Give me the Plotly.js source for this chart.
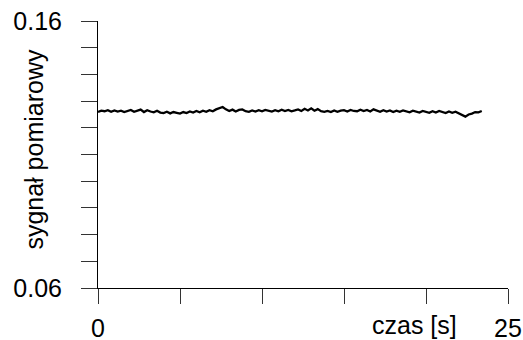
<!DOCTYPE html>
<html>
<head>
<meta charset="utf-8">
<script src="https://cdn.plot.ly/plotly-3.0.1.min.js"></script>
<style>html,body{margin:0;padding:0;background:#fff;}#chart{width:523px;height:340px;}</style>
</head>
<body>
<div id="chart"></div>
<script>
// time [s], step 0.2 s
const timeStart = 0;
const timeStep = 0.2;
const signal = [
0.1259,0.1264,0.1262,0.1266,0.1260,0.1265,0.1261,0.1264,0.1259,0.1263,
0.1267,0.1260,0.1265,0.1268,0.1259,0.1266,0.1261,0.1258,0.1264,0.1257,
0.1255,0.1260,0.1254,0.1259,0.1256,0.1253,0.1259,0.1255,0.1261,0.1257,
0.1263,0.1258,0.1264,0.1260,0.1266,0.1262,0.1269,0.1273,0.1278,0.1269,
0.1263,0.1268,0.1261,0.1267,0.1269,0.1262,0.1260,0.1265,0.1261,0.1266,
0.1262,0.1267,0.1263,0.1261,0.1266,0.1262,0.1268,0.1263,0.1267,0.1262,
0.1265,0.1269,0.1263,0.1271,0.1265,0.1273,0.1264,0.1270,0.1262,0.1260,
0.1263,0.1259,0.1265,0.1260,0.1264,0.1266,0.1261,0.1267,0.1263,0.1262,
0.1268,0.1263,0.1267,0.1261,0.1269,0.1263,0.1260,0.1266,0.1261,0.1265,
0.1259,0.1264,0.1260,0.1265,0.1261,0.1258,0.1264,0.1260,0.1257,0.1263,
0.1259,0.1256,0.1262,0.1257,0.1263,0.1258,0.1255,0.1261,0.1256,0.1260,
0.1254,0.1249,0.1242,0.1250,0.1253,0.1259,0.1258,0.1263
];
const time = signal.map((_, i) => +(timeStart + i * timeStep).toFixed(2));

const xTickVals = [0, 5, 10, 15, 20, 25];
const xTickText = ['0', '', '', '', '', '25'];
const yTickVals = [0.06,0.07,0.08,0.09,0.10,0.11,0.12,0.13,0.14,0.15,0.16];
const yTickText = ['0.06','','','','','','','','','','0.16'];
const xTitle = 'czas [s]';
const yTitle = 'sygnał pomiarowy';

const font = {family: '"Liberation Sans", Arial, sans-serif', size: 25, color: '#000'};

Plotly.newPlot('chart', [{
  x: time, y: signal, type: 'scatter', mode: 'lines',
  line: {color: '#000', width: 2.3}, hoverinfo: 'skip'
}], {
  width: 523, height: 340,
  margin: {l: 98, r: 15, t: 21, b: 52},
  paper_bgcolor: '#fff', plot_bgcolor: '#fff',
  showlegend: false,
  font: font,
  xaxis: {
    range: [0, 25], tickmode: 'array', tickvals: xTickVals, ticktext: xTickText,
    showgrid: false, zeroline: false, showline: true, linecolor: '#000', linewidth: 1,
    ticks: 'outside', ticklen: 15, tickcolor: '#333', tickwidth: 1,
    ticklabelstandoff: 3, tickfont: font, fixedrange: true
  },
  yaxis: {
    range: [0.06, 0.16], tickmode: 'array', tickvals: yTickVals, ticktext: yTickText,
    showgrid: false, zeroline: false, showline: true, linecolor: '#000', linewidth: 1,
    ticks: 'outside', ticklen: 16, tickcolor: '#333', tickwidth: 1,
    ticklabelstandoff: 14, tickfont: font, fixedrange: true
  },
  annotations: [
    {text: yTitle, xref: 'paper', yref: 'paper', x: -0.155, y: 0.52,
     xanchor: 'center', yanchor: 'middle', textangle: -90, showarrow: false, font: font},
    {text: xTitle, xref: 'paper', yref: 'paper', x: 0.773, y: -0.138,
     xanchor: 'center', yanchor: 'middle', showarrow: false, font: font}
  ]
}, {staticPlot: true});
</script>
</body>
</html>
